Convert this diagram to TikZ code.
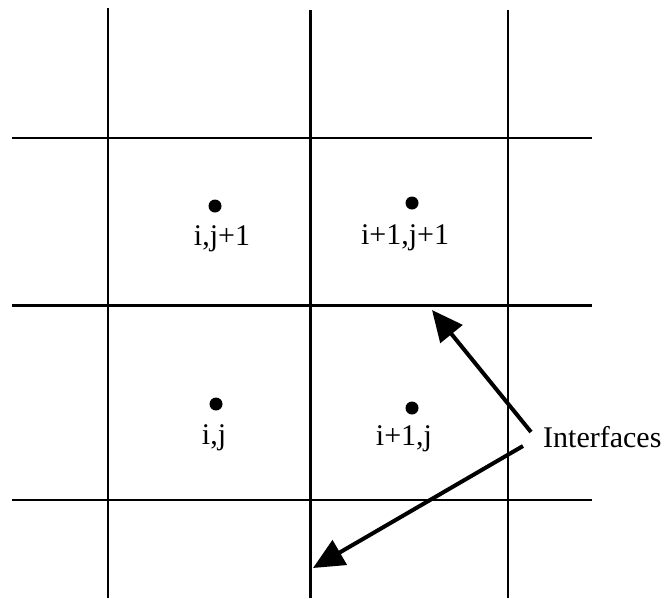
\documentclass[tikz,border=0pt]{standalone}
\usepackage{fontspec}
\setmainfont{Liberation Serif}
\usetikzlibrary{arrows.meta}
\begin{document}
\begin{tikzpicture}[x=1pt,y=-1pt,
  thinline/.style={line width=1.5pt},
  thickline/.style={line width=3pt},
  celldot/.style={circle,fill=black,inner sep=0pt,minimum size=13pt},
  lbl/.style={anchor=base,inner sep=0pt,font=\fontsize{30}{36}\selectfont},
  pointer/.style={line width=4pt,-{Triangle[length=31pt,width=28pt]}}]
\useasboundingbox[fill=white] (0,0) rectangle (666,598);
% grid
\draw[thinline] (108,8) -- (108,598);
\draw[thickline] (310,10) -- (310,598);
\draw[thinline] (508,10) -- (508,598);
\draw[thinline] (12,138) -- (592,138);
\draw[thickline] (12,305) -- (592,305);
\draw[thinline] (12,500) -- (592,500);
% cell centres
\node[celldot] (d1) at (215,206) {};
\node[celldot] (d2) at (412,203) {};
\node[celldot] (d3) at (216,404) {};
\node[celldot] (d4) at (412,408) {};
\node[lbl] (l1) at (222,245) {i,j+1};
\node[lbl] (l2) at (405,244) {i+1,j+1};
\node[lbl] (l3) at (214,444) {i,j};
\node[lbl] (l4) at (404,445) {i+1,j};
\node[lbl,anchor=base west] (itf) at (543,447) {Interfaces};
% arrows
\coordinate (s1) at (531,432);
\coordinate (t1) at (432,310);
\coordinate (s2) at (523,446);
\coordinate (t2) at (313,568);
\draw[pointer] (s1) -- (t1);
\draw[pointer] (s2) -- (t2);
\end{tikzpicture}
\end{document}
